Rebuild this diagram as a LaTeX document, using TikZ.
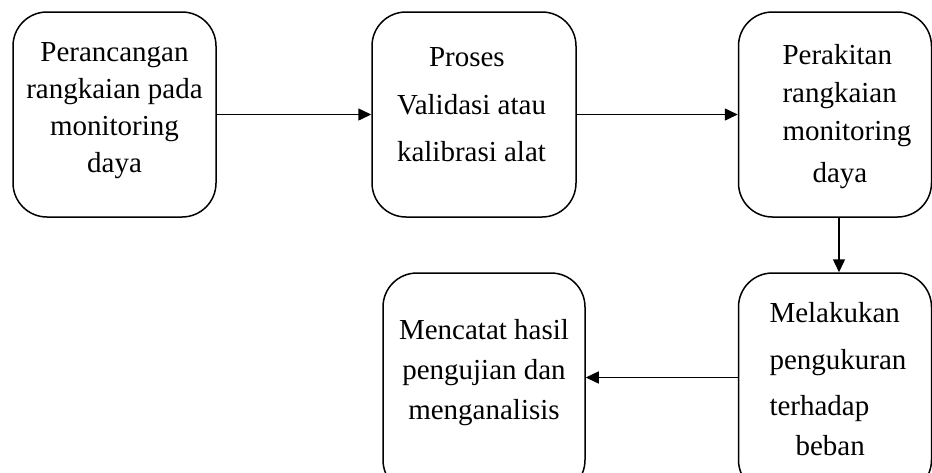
\documentclass[tikz,border=0pt]{standalone}
\usepackage{fontspec}
\setmainfont{Liberation Serif}
\usetikzlibrary{arrows.meta}
\newcommand{\stagetext}[4]{\parbox[c][#2][t]{#1}{\vspace*{#3}#4}}

\begin{document}
\begin{tikzpicture}[
  x=1pt, y=-1pt,
  font=\fontsize{29}{37}\selectfont,
  stage/.style={draw, line width=1.5pt, rounded corners=34pt, inner sep=0pt},
  flow/.style={draw, line width=1.5pt, -{Triangle[length=13pt, width=12pt]}}
]
\useasboundingbox (0,0) rectangle (932,472);
\clip (0,0) rectangle (932,472);

\node[stage] (p1) at (114.5,114.5) {\stagetext{203pt}{205pt}{31pt}{\centering Perancangan\\rangkaian pada\\monitoring\\daya}};
\node[stage] (p2) at (474,114.5) {\stagetext{204pt}{205pt}{35.5pt}{\raggedright\leftskip=25pt \hspace*{32pt}Proses\\[11pt]Validasi atau\\[10pt]kalibrasi alat}};
\node[stage] (p3) at (835,114.5) {\stagetext{193pt}{205pt}{32pt}{\raggedright\leftskip=44pt Perakitan\\[1pt]rangkaian\\[1pt]monitoring\\[5pt]\hspace*{30pt}daya}};
\node[stage] (p4) at (835,383.5) {\stagetext{193pt}{221pt}{29pt}{\raggedright\leftskip=31pt Melakukan\\[10pt]pengukuran\\[9pt]terhadap\\[3pt]\hspace*{26pt}beban}};
\node[stage] (p5) at (484,383.5) {\stagetext{202pt}{221pt}{46pt}{\centering Mencatat hasil\\[3pt]pengujian dan\\[3pt]menganalisis}};

\draw[flow] (p1.east) -- (p2.west);
\draw[flow] (p2.east) -- (p3.west);
\draw[flow] ([xshift=4pt]p3.south) -- ([xshift=4pt]p4.north);
\draw[flow] ([yshift=6pt]p4.west) -- ([yshift=6pt]p5.east);
\end{tikzpicture}
\end{document}
